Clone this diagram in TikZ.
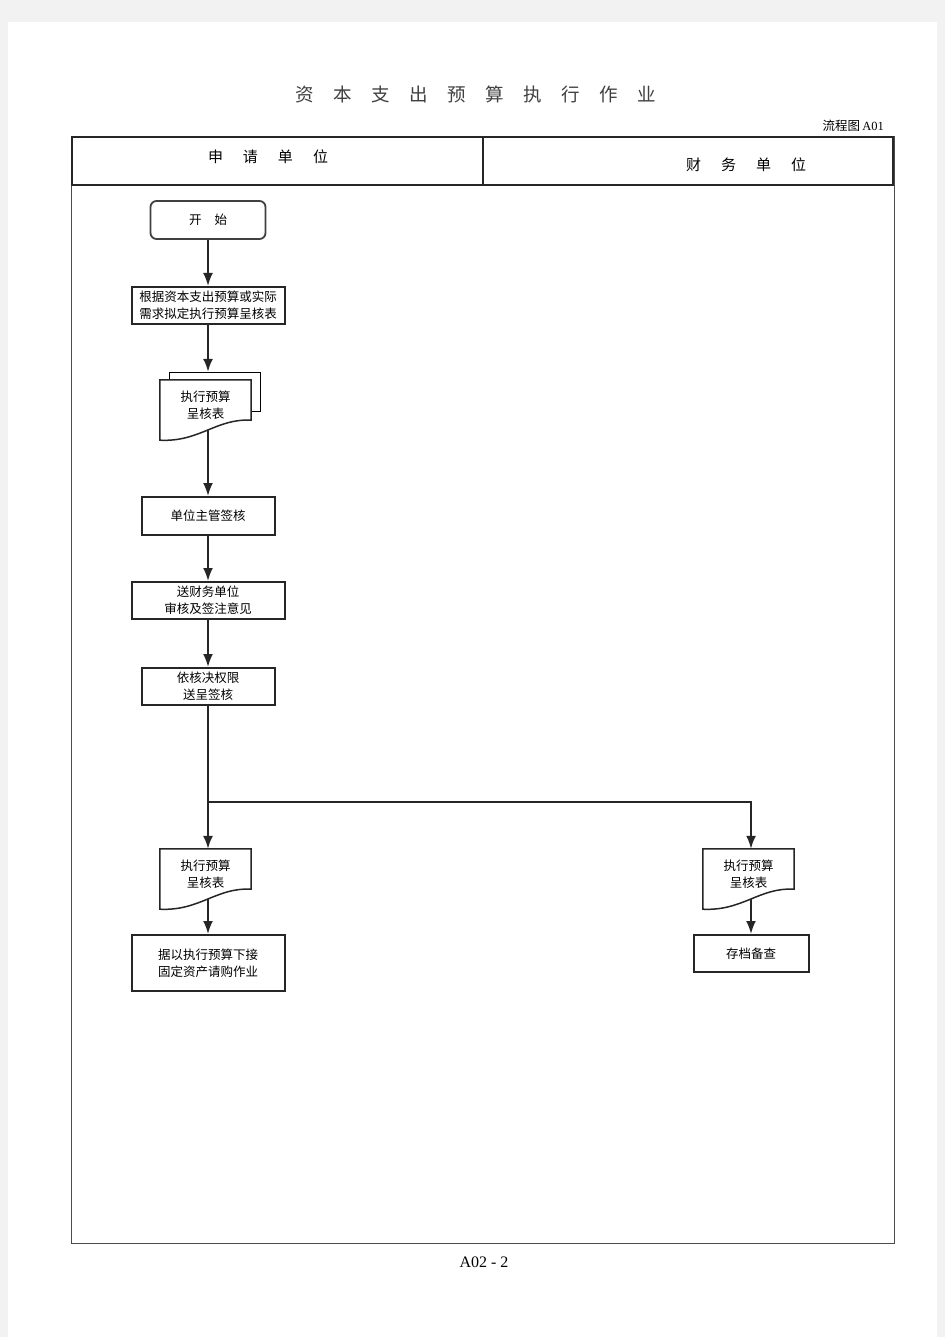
\documentclass[tikz,border=0pt]{standalone}
\usepackage{fontspec}
\setmainfont{Liberation Serif}
\newfontfamily\cjk{Noto Sans CJK SC}
\usepackage{tikz}
\usetikzlibrary{arrows}
\usetikzlibrary{arrows.meta}
\tikzstyle{chart}=[x=1pt, y=-1pt, font=\cjk\fontsize{12.5}{17}\selectfont]
\tikzstyle{box}=[rectangle, inner sep=0pt, draw=black!85, line width=2pt, fill=white, align=center]
\tikzstyle{start}=[box, rounded corners=6pt, line width=1.8pt, draw=black!75]
\tikzstyle{doc}=[rectangle, inner sep=0pt, align=center, minimum width=91pt, minimum height=50pt]
\tikzstyle{docline}=[draw=black!85, line width=1.5pt]
\tikzstyle{edge}=[draw=black!85, line width=2pt, -{Latex[length=13pt,width=10pt]}]
\tikzstyle{frame}=[draw=black!70, line width=1pt]
\tikzstyle{head}=[font=\cjk\fontsize{15}{18}\selectfont]
% document symbol round a doc node
\newcommand{\docshape}[1]{\draw[docline] (#1.north west) -- (#1.north east) -- ([yshift=10pt]#1.south east) .. controls ([xshift=-35pt,yshift=12pt]#1.south east) and ([xshift=40pt,yshift=-12pt]#1.south west) .. ([yshift=-10pt]#1.south west) -- cycle;}

\begin{document}
\begin{tikzpicture}[chart]
	% paper
	\fill[black!5] (0,0) rectangle (945,1337);
	\fill[white] (8,22) rectangle (937,1337);
	\useasboundingbox (0,0) rectangle (945,1337);
	\draw (476,94) node[font=\cjk\fontsize{18.5}{20}\selectfont, text=black!75] (title) {资\hspace{19.5pt}本\hspace{19.5pt}支\hspace{19.5pt}出\hspace{19.5pt}预\hspace{19.5pt}算\hspace{19.5pt}执\hspace{19.5pt}行\hspace{19.5pt}作\hspace{19.5pt}业};
	\draw (884,126) node[anchor=east, inner sep=0pt] (chartno) {流程图\,{\rmfamily\fontsize{12.5}{14}\selectfont A01}};
	\draw (484,1262) node[font=\rmfamily\fontsize{16}{18}\selectfont] (pageno) {A02 - 2};
	% frame
	\draw[frame] (71,137) rectangle (894,1243);
	\draw[frame, line width=1.5pt, draw=black!85] (72,137) rectangle (893,185);
	\draw[frame, line width=1.2pt, draw=black!85] (483,137) -- (483,185);
	\draw (268,157) node[head] (applicant) {申\hspace{20pt}请\hspace{20pt}单\hspace{20pt}位};
	\draw (746,165) node[head] (finance) {财\hspace{20pt}务\hspace{20pt}单\hspace{20pt}位};
	% steps
	\draw (208,220) node[start, minimum width=115pt, minimum height=38pt] (start) {开\hspace{13pt}始};
	\draw (208,305.5) node[box, minimum width=153pt, minimum height=37pt] (draft) {根据资本支出预算或实际\\需求拟定执行预算呈核表};
	\draw (205.5,405) node[doc] (form1) {执行预算\\呈核表};
	\draw ([xshift=9pt]form1.north west) |- ([xshift=9pt,yshift=8pt]form1.north east) |- ([yshift=19pt]form1.south east);
	\docshape{form1}
	\draw (208,516) node[box, minimum width=133pt, minimum height=38pt] (sign) {单位主管签核};
	\draw (208,600.5) node[box, minimum width=153pt, minimum height=37pt] (review) {送财务单位\\审核及签注意见};
	\draw (208,686.5) node[box, minimum width=133pt, minimum height=37pt] (approve) {依核决权限\\送呈签核};
	\draw (205.5,874) node[doc] (form2) {执行预算\\呈核表};
	\docshape{form2}
	\draw (208,963) node[box, minimum width=153pt, minimum height=56pt] (purchase) {据以执行预算下接\\固定资产请购作业};
	\draw (748.5,874) node[doc] (form3) {执行预算\\呈核表};
	\docshape{form3}
	\draw (751,953.5) node[box, minimum width=115pt, minimum height=37pt] (archive) {存档备查};
	\coordinate (split) at (208,802);
	% flow
	\draw[edge] (start) -- (draft);
	\draw[edge] (draft.south) -- ([yshift=8pt]draft.south |- form1.north);
	\draw[edge] (form1.south -| sign.north) -- (sign.north);
	\draw[edge] (sign) -- (review);
	\draw[edge] (review) -- (approve);
	\draw[edge] (approve.south) -- (split) -- (split |- form2.north);
	\draw[edge] (split) -| (archive.north |- form3.north);
	\draw[edge] (form2.south -| purchase.north) -- (purchase.north);
	\draw[edge] (form3.south -| archive.north) -- (archive.north);
\end{tikzpicture}
\end{document}
